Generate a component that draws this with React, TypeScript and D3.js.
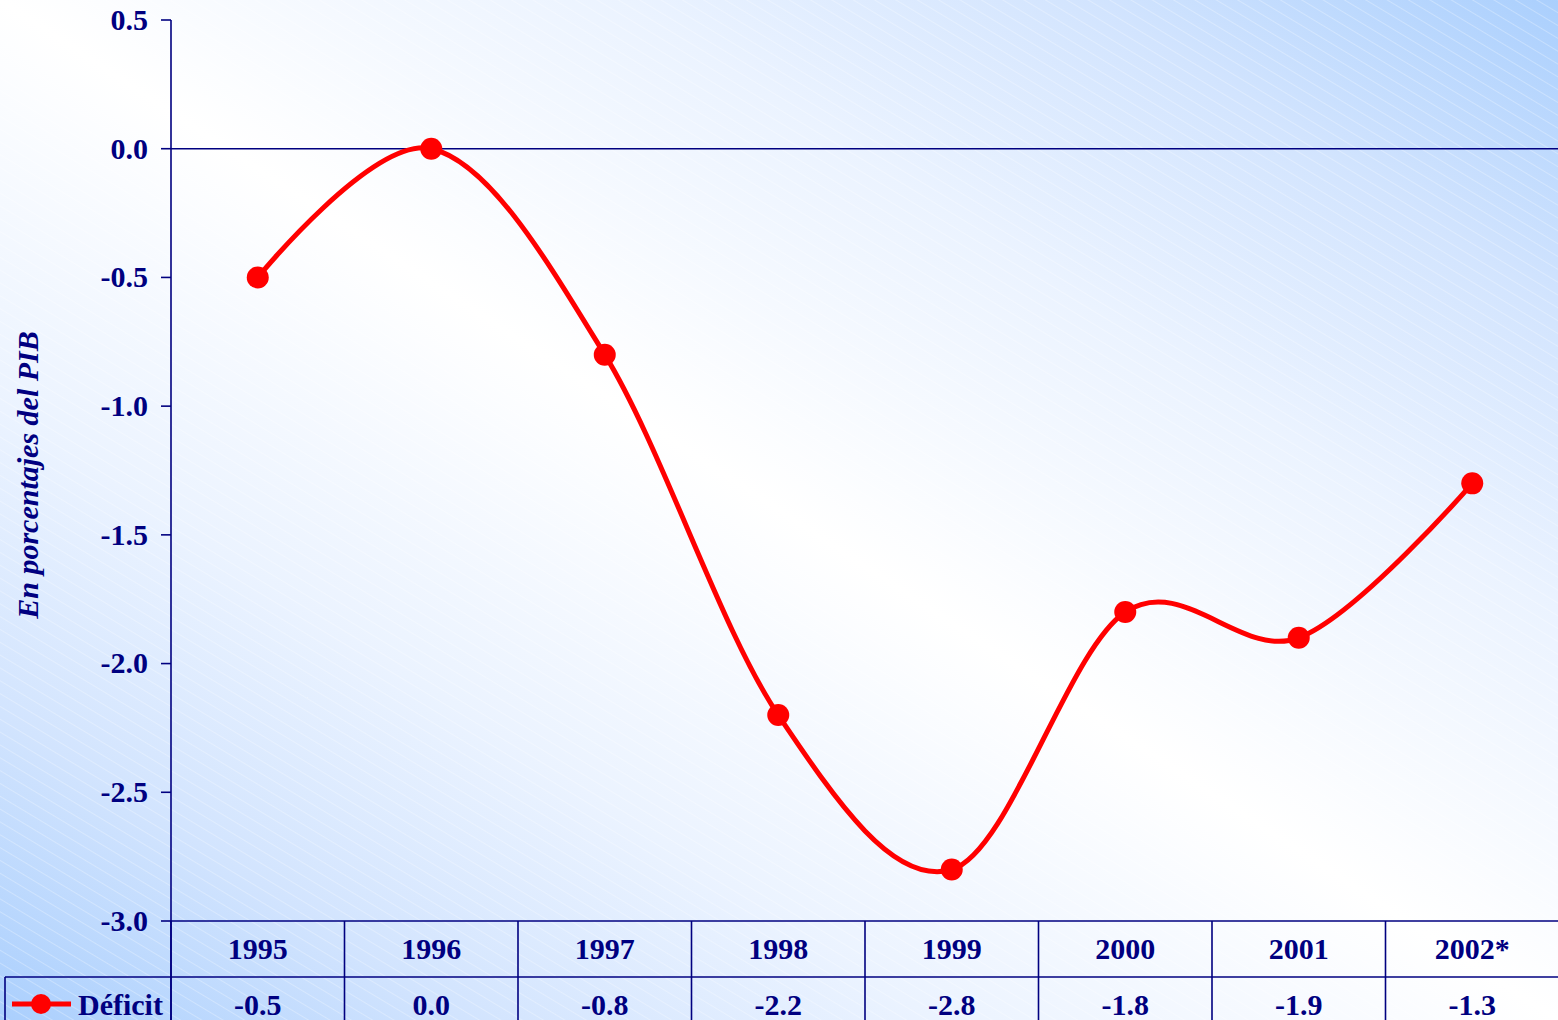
import React from "react";
import * as d3 from "d3";

const years = ["1995", "1996", "1997", "1998", "1999", "2000", "2001", "2002*"];
const deficit = [-0.5, 0.0, -0.8, -2.2, -2.8, -1.8, -1.9, -1.3];
const yTicks = [0.5, 0.0, -0.5, -1.0, -1.5, -2.0, -2.5, -3.0];
const seriesName = "Déficit";
const yTitle = "En porcentajes del PIB";

const W = 1558;
const H = 1020;
const NAVY = "#000080";
const RED = "#ff0000";
const FONT = "'Liberation Serif', 'Times New Roman', serif";

export default function App() {
  const left = 171;
  const top = 20;
  const bottom = 921;
  const row1 = 977;

  const x = d3.scaleBand<string>().domain(years).range([left, 1559]);
  const y = d3.scaleLinear().domain([-3.0, 0.5]).range([bottom, top]);
  const cx = (i: number) => x(years[i])! + x.bandwidth() / 2;

  const line = d3
    .line<number>()
    .x((_, i) => cx(i))
    .y((d) => y(d))
    .curve(d3.curveCardinal.tension(0));

  // gradient runs across the TL-BR diagonal (white band along it)
  const diag = Math.hypot(W, H);
  const half = (W * H) / diag;
  const gx = (half * H) / diag;
  const gy = (half * W) / diag;

  const bounds = years.map((yr) => x(yr)!).concat([x.range()[1]]);

  return (
    <svg
      width={W}
      height={H}
      style={{ position: "absolute", left: 0, top: 0, fontFamily: FONT }}
    >
      <defs>
        <linearGradient
          id="bg"
          gradientUnits="userSpaceOnUse"
          x1={W / 2 - gx}
          y1={H / 2 + gy}
          x2={W / 2 + gx}
          y2={H / 2 - gy}
        >
          <stop offset="0" stopColor="#aacffd" />
          <stop offset="0.15" stopColor="#d2e4fe" />
          <stop offset="0.3" stopColor="#ebf3ff" />
          <stop offset="0.5" stopColor="#ffffff" />
          <stop offset="0.7" stopColor="#ebf3ff" />
          <stop offset="0.85" stopColor="#d2e4fe" />
          <stop offset="1" stopColor="#aacffd" />
        </linearGradient>
        <pattern
          id="hatch"
          width="11"
          height="11"
          patternUnits="userSpaceOnUse"
          patternTransform="rotate(31)"
        >
          <line x1="0" y1="0.5" x2="11" y2="0.5" stroke="#ffffff" strokeWidth="0.8" opacity="0.35" />
        </pattern>
      </defs>
      <rect width={W} height={H} fill="url(#bg)" />
      <rect width={W} height={H} fill="url(#hatch)" />

      {/* zero line */}
      <line x1={left} x2={W} y1={y(0)} y2={y(0)} stroke={NAVY} strokeWidth={1.6} />

      {/* y axis */}
      <line x1={left} x2={left} y1={top} y2={H} stroke={NAVY} strokeWidth={1.6} />
      {yTicks.map((t) => (
        <g key={t}>
          <line x1={left - 10} x2={left} y1={y(t)} y2={y(t)} stroke={NAVY} strokeWidth={1.6} />
          <text
            x={148}
            y={y(t)}
            textAnchor="end"
            dy="0.33em"
            fontSize={30}
            fontWeight="bold"
            fill={NAVY}
          >
            {t.toFixed(1)}
          </text>
        </g>
      ))}

      <text
        transform={`translate(38, 475) rotate(-90)`}
        textAnchor="middle"
        fontSize={30}
        fontWeight="bold"
        fontStyle="italic"
        fill={NAVY}
      >
        {yTitle}
      </text>

      {/* data table */}
      <line x1={left} x2={W} y1={bottom} y2={bottom} stroke={NAVY} strokeWidth={1.6} />
      <line x1={5} x2={W} y1={row1} y2={row1} stroke={NAVY} strokeWidth={1.6} />
      <line x1={5} x2={5} y1={row1} y2={H} stroke={NAVY} strokeWidth={1.6} />
      {bounds.map((b, i) => (
        <line key={i} x1={b} x2={b} y1={bottom} y2={H} stroke={NAVY} strokeWidth={1.6} />
      ))}
      {years.map((yr, i) => (
        <g key={yr}>
          <text x={cx(i)} y={959} textAnchor="middle" fontSize={30} fontWeight="bold" fill={NAVY}>
            {yr}
          </text>
          <text x={cx(i)} y={1015} textAnchor="middle" fontSize={30} fontWeight="bold" fill={NAVY}>
            {deficit[i].toFixed(1)}
          </text>
        </g>
      ))}

      {/* legend key */}
      <line x1={12} x2={71} y1={1004} y2={1004} stroke={RED} strokeWidth={5} />
      <circle cx={41} cy={1004} r={10} fill={RED} />
      <text x={78} y={1015} fontSize={30} fontWeight="bold" fill={NAVY}>
        {seriesName}
      </text>

      {/* series */}
      <path d={line(deficit) ?? ""} fill="none" stroke={RED} strokeWidth={5} strokeLinejoin="round" />
      {deficit.map((v, i) => (
        <circle key={i} cx={cx(i)} cy={y(v)} r={11} fill={RED} />
      ))}
    </svg>
  );
}
